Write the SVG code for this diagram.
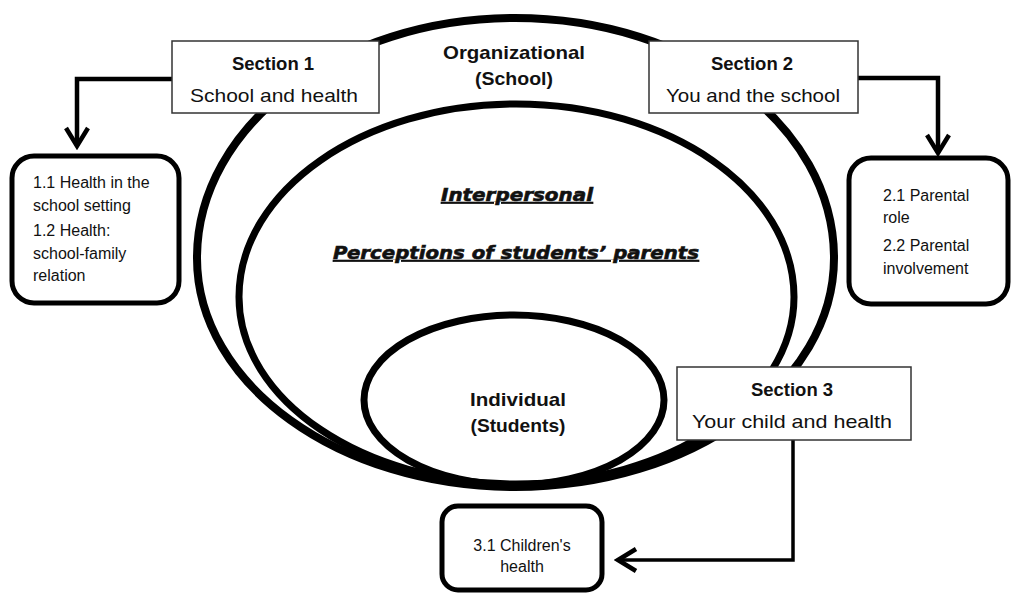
<svg xmlns="http://www.w3.org/2000/svg" width="1013" height="595" viewBox="0 0 1013 595">
<style>
.ring{fill:none;stroke:#000}
.sec{fill:#fff;stroke:#333;stroke-width:1.5}
.rbox{fill:#fff;stroke:#000;stroke-width:5}
.h{font-family:"Liberation Sans",Arial,sans-serif;font-weight:bold;font-size:18.5px;fill:#111;text-anchor:middle}
.r{font-family:"Liberation Sans",Arial,sans-serif;font-size:18.5px;fill:#111;text-anchor:middle}
.s{font-family:"Liberation Sans",Arial,sans-serif;font-size:16px;fill:#111}
.bi{font-family:"DejaVu Sans",sans-serif;font-weight:bold;font-style:italic;font-size:17px;fill:#111;stroke:#111;stroke-width:0.6;text-anchor:middle;text-decoration:underline}
.con{fill:none;stroke:#000;stroke-linejoin:miter}
</style>
<defs>
<marker id="chev" markerUnits="userSpaceOnUse" viewBox="-22 -16 26 32" markerWidth="26" markerHeight="32" refX="0" refY="0" orient="auto">
<path d="M-18,-11 L0,0 L-18,11" fill="none" stroke="#000" stroke-width="4.5" stroke-linejoin="miter"/>
</marker>
</defs>
<rect width="1013" height="595" fill="#fff"/>
<g id="organizational">
<path class="ring" stroke-width="8" d="M515,18 C691.2,18 834,125.4 834,258 C834,384.5 691.2,487 515,487 C339.4,487 197,384.5 197,258 C197,125.4 339.4,18 515,18 Z"/>
<text class="h" x="514" y="58.5" textLength="142" lengthAdjust="spacingAndGlyphs">Organizational</text>
<text class="h" x="514" y="84.5" textLength="78" lengthAdjust="spacingAndGlyphs">(School)</text>
</g>
<g id="interpersonal">
<path class="ring" stroke-width="7" d="M516,104 C669.5,104 794,190.4 794,297 C794,400.3 669.5,484 516,484 C363,484 239,400.3 239,297 C239,190.4 363,104 516,104 Z"/>
<text class="bi" x="517" y="201" textLength="152" lengthAdjust="spacingAndGlyphs">Interpersonal</text>
<text class="bi" x="516" y="259" textLength="366" lengthAdjust="spacingAndGlyphs">Perceptions of students’ parents</text>
</g>
<g id="individual">
<ellipse class="ring" stroke-width="7" cx="514" cy="400" rx="150" ry="85"/>
<text class="h" x="518" y="405.5" textLength="96" lengthAdjust="spacingAndGlyphs">Individual</text>
<text class="h" x="518" y="431.5" textLength="95" lengthAdjust="spacingAndGlyphs">(Students)</text>
</g>
<g id="connectors">
<path class="con" stroke-width="4.5" d="M172,79 H77 V146"/>
<path class="con" stroke-width="4.5" d="M858,78 H938 V153"/>
<path class="con" stroke-width="3.5" d="M793,440 V560 H618"/>
<path d="M77,140 V146" stroke="none" fill="none" marker-end="url(#chev)"/>
<path d="M938,147 V153" stroke="none" fill="none" marker-end="url(#chev)"/>
<path d="M624,560 H618" stroke="none" fill="none" marker-end="url(#chev)"/>
</g>
<g id="section1">
<rect class="sec" x="172" y="41" width="207" height="72"/>
<text class="h" x="273" y="69.5">Section 1</text>
<text class="r" x="274" y="101.5" textLength="168" lengthAdjust="spacingAndGlyphs">School and health</text>
</g>
<g id="section2">
<rect class="sec" x="649" y="41" width="209" height="72"/>
<text class="h" x="752" y="69.5">Section 2</text>
<text class="r" x="753" y="101.5" textLength="174" lengthAdjust="spacingAndGlyphs">You and the school</text>
</g>
<g id="section3">
<rect class="sec" x="677" y="367" width="234" height="73"/>
<text class="h" x="792" y="395.5">Section 3</text>
<text class="r" x="792" y="427.5" textLength="200" lengthAdjust="spacingAndGlyphs">Your child and health</text>
</g>
<g id="box11">
<rect class="rbox" x="12" y="156" width="167" height="147" rx="22"/>
<text class="s" x="33" y="187.5">1.1 Health in the</text>
<text class="s" x="33" y="210.5">school setting</text>
<text class="s" x="33" y="235.5">1.2 Health:</text>
<text class="s" x="33" y="258.5">school-family</text>
<text class="s" x="33" y="280.5">relation</text>
</g>
<g id="box21">
<rect class="rbox" x="849" y="158" width="159" height="146" rx="22"/>
<text class="s" x="883" y="200.5">2.1 Parental</text>
<text class="s" x="883" y="222.5">role</text>
<text class="s" x="883" y="250.5">2.2 Parental</text>
<text class="s" x="883" y="273.5">involvement</text>
</g>
<g id="box31">
<rect class="rbox" x="442" y="506" width="160" height="84" rx="16"/>
<text class="s" x="522" y="550.5" text-anchor="middle">3.1 Children's</text>
<text class="s" x="522" y="571.5" text-anchor="middle">health</text>
</g>
</svg>
